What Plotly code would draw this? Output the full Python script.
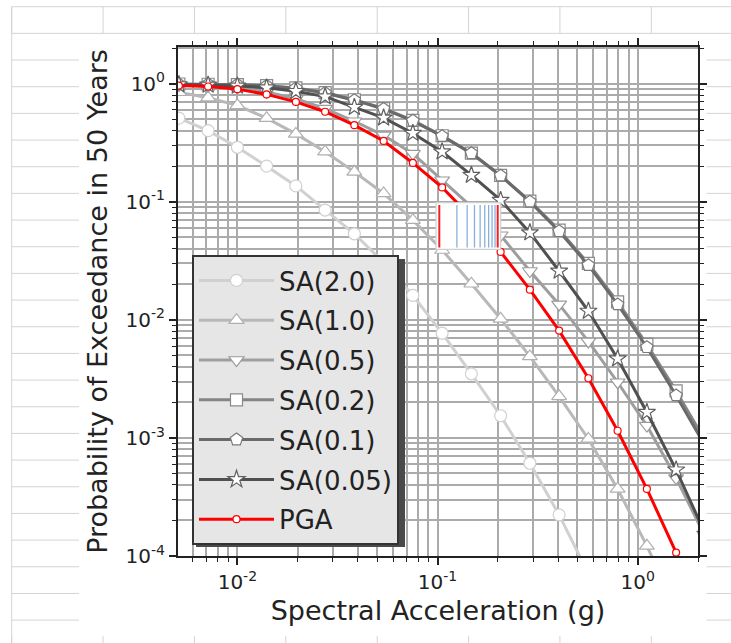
import math
import plotly.graph_objects as go

# ---------------- data ----------------
accel_g = [0.0051, 0.00714, 0.009996, 0.013994, 0.019592, 0.027429, 0.0384,
           0.05376, 0.075265, 0.105371, 0.147519, 0.206527, 0.289138,
           0.404793, 0.56671, 0.793394, 1.110752, 1.555052, 2.177073]

sa_2_0 = [0.51, 0.40, 0.289, 0.200, 0.136, 0.085, 0.0535, 0.0306, 0.0161,
          0.0077, 0.00349, 0.00154, 0.00061, 0.000223, 0.000071]
sa_1_0 = [0.845, 0.76, 0.655, 0.51, 0.375, 0.265, 0.179, 0.1175, 0.0698,
          0.039, 0.0202, 0.0102, 0.0049, 0.00225, 0.00098, 0.00037,
          0.000122, 0.000035]
sa_0_5 = [0.975, 0.96, 0.925, 0.85, 0.745, 0.615, 0.48, 0.365, 0.255, 0.152,
          0.091, 0.052, 0.0259, 0.0135, 0.00656, 0.00296, 0.00127, 0.000457,
          0.000145]
sa_0_2 = [0.992, 0.988, 0.980, 0.960, 0.920, 0.840, 0.730, 0.615, 0.488,
          0.362, 0.258, 0.167, 0.101, 0.0575, 0.0300, 0.0142, 0.0062, 0.0025,
          0.00094]
sa_0_1 = [0.989, 0.986, 0.977, 0.955, 0.912, 0.832, 0.724, 0.610, 0.484,
          0.359, 0.257, 0.166, 0.100, 0.0562, 0.0290, 0.0135, 0.00586,
          0.00229, 0.00085]
sa_0_05 = [0.982, 0.973, 0.955, 0.923, 0.861, 0.776, 0.631, 0.513, 0.380,
           0.265, 0.168, 0.103, 0.0547, 0.0259, 0.01186, 0.00468, 0.00165,
           0.000537, 0.000153]
pga = [0.962, 0.945, 0.898, 0.810, 0.700, 0.578, 0.445, 0.327, 0.213, 0.132,
       0.074, 0.0376, 0.018, 0.0081, 0.0032, 0.00115, 0.00037, 0.000107,
       0.000028]

series_names = ["SA(2.0)", "SA(1.0)", "SA(0.5)", "SA(0.2)", "SA(0.1)",
                "SA(0.05)", "PGA"]
series_values = [sa_2_0, sa_1_0, sa_0_5, sa_0_2, sa_0_1, sa_0_05, pga]

x_tick_vals = [0.01, 0.1, 1]
x_tick_text = ["10<sup>-2</sup>", "10<sup>-1</sup>", "10<sup>0</sup>"]
y_tick_vals = [1e-4, 1e-3, 1e-2, 1e-1, 1]
y_tick_text = ["10<sup>-4</sup>", "10<sup>-3</sup>", "10<sup>-2</sup>",
               "10<sup>-1</sup>", "10<sup>0</sup>"]

# ---------------- styles ----------------
colors = ["#d0d0d0", "#b8b8b8", "#9e9e9e", "#858585", "#6a6a6a", "#505050",
          "#ff0000"]
edge_colors = ["#d0d0d0", "#b0b0b0", "#9a9a9a", "#8a8a8a", "#7a7a7a",
               "#606060", "#ff0000"]
symbols = ["circle", "triangle-up", "triangle-down", "square", "pentagon",
           "star", "circle"]
msizes = [12, 13, 13, 12, 13, 13, 7]

FONT = "DejaVu Sans"
W, H = 731, 643
PL, PT, PW, PH = 178, 47, 520, 509


def px(x):
    return (x - PL) / PW


def py(y):
    return (PT + PH - y) / PH


fig = go.Figure()
for i, (name, vals) in enumerate(zip(series_names, series_values)):
    fig.add_trace(go.Scatter(
        x=accel_g[:len(vals)], y=vals, name=name, mode="lines+markers",
        legendgroup=name,
        line=dict(color=colors[i], width=3),
        marker=dict(symbol=symbols[i], size=msizes[i], color="white",
                    line=dict(color=edge_colors[i], width=1.2)),
    ))

minor_x = []
for d in [0.001, 0.01, 0.1, 1]:
    for m in range(2, 10):
        minor_x.append(m * d)
minor_y = []
for d in [1e-4, 1e-3, 1e-2, 1e-1, 1]:
    for m in range(2, 10):
        minor_y.append(m * d)

grid_c = "#ababab"
axis_common = dict(
    type="log", showline=True, linecolor="#222", linewidth=2, mirror="ticks",
    ticks="outside", ticklen=7, tickwidth=1.5, tickcolor="#222",
    showgrid=True, gridcolor=grid_c, gridwidth=1.5, zeroline=False,
    tickfont=dict(family=FONT, size=20, color="#222"),
    tickmode="array",
    minor=dict(tickmode="array", ticks="outside", ticklen=4, tickwidth=1.2,
               tickcolor="#222", showgrid=True, gridcolor=grid_c,
               gridwidth=1.5),
)

fig.update_layout(
    width=W, height=H, margin=dict(l=PL, r=W - PL - PW, t=PT, b=H - PT - PH),
    paper_bgcolor="white", plot_bgcolor="white",
    font=dict(family=FONT, color="#222"),
    xaxis=dict(axis_common, range=[math.log10(0.00505), math.log10(2.0)],
               tickvals=x_tick_vals, ticktext=x_tick_text,
               title=dict(text="Spectral Acceleration (g)",
                          font=dict(family=FONT, size=27, color="#222"),
                          standoff=8)),
    yaxis=dict(axis_common, range=[-4, 0.31],
               tickvals=y_tick_vals, ticktext=y_tick_text,
               title=dict(text="Probability of Exceedance in 50 Years",
                          font=dict(family=FONT, size=27, color="#222"),
                          standoff=10)),
    legend=dict(x=px(192), y=py(255), xanchor="left", yanchor="top",
                bgcolor="#e6e6e6", bordercolor="#333", borderwidth=2,
                font=dict(family=FONT, size=26, color="#222"),
                tracegroupgap=3, itemwidth=75),
    showlegend=True,
)
fig.update_xaxes(minor_tickvals=minor_x)
fig.update_yaxes(minor_tickvals=minor_y)

shapes = []
line_c = "#d4d4d4"


def hline(x0, x1, y, color=line_c, width=1, layer="below"):
    shapes.append(dict(type="line", xref="paper", yref="paper",
                       x0=px(x0), x1=px(x1), y0=py(y), y1=py(y),
                       line=dict(color=color, width=width), layer=layer))


def vline(x, y0, y1, color=line_c, width=1, layer="below"):
    shapes.append(dict(type="line", xref="paper", yref="paper",
                       x0=px(x), x1=px(x), y0=py(y0), y1=py(y1),
                       line=dict(color=color, width=width), layer=layer))


# spreadsheet background around the pasted figure
row0, row_h = 6.7, 26.67
col0, col_w = 11.7, 91.37
hline(col0, W, row0)
hline(col0, W, row0 + row_h)
for n in range(8):
    vline(col0 + n * col_w, row0, row0 + row_h)
    vline(col0 + n * col_w, 636, H)
vline(col0, row0, H)
for n in range(2, 24):
    yy = row0 + n * row_h
    hline(col0, 79, yy)
    hline(706.5, W, yy)

# legend shadow
shapes.append(dict(type="rect", xref="paper", yref="paper",
                   x0=px(196), x1=px(405), y0=py(259), y1=py(547),
                   fillcolor="#4a4a4a", line=dict(width=0), layer="above"))

# small pasted box artifact
shapes.append(dict(type="rect", xref="paper", yref="paper",
                   x0=px(436), x1=px(500.7), y0=py(202.7), y1=py(249.3),
                   fillcolor="white", line=dict(color="#cfcfcf", width=1.2),
                   layer="above"))
bx0, bx1 = 439.3, 497.7
vline(bx0, 205, 247.5, color="#ee2222", width=2, layer="above")
vline(bx1, 205, 247.5, color="#ee2222", width=2, layer="above")
for k in range(2, 10):
    xx = bx0 + math.log10(k) * (bx1 - bx0)
    vline(xx, 205, 247.5, color="#8ab0dc", width=1.3, layer="above")

fig.update_layout(shapes=shapes)
fig.write_html("out.html")
